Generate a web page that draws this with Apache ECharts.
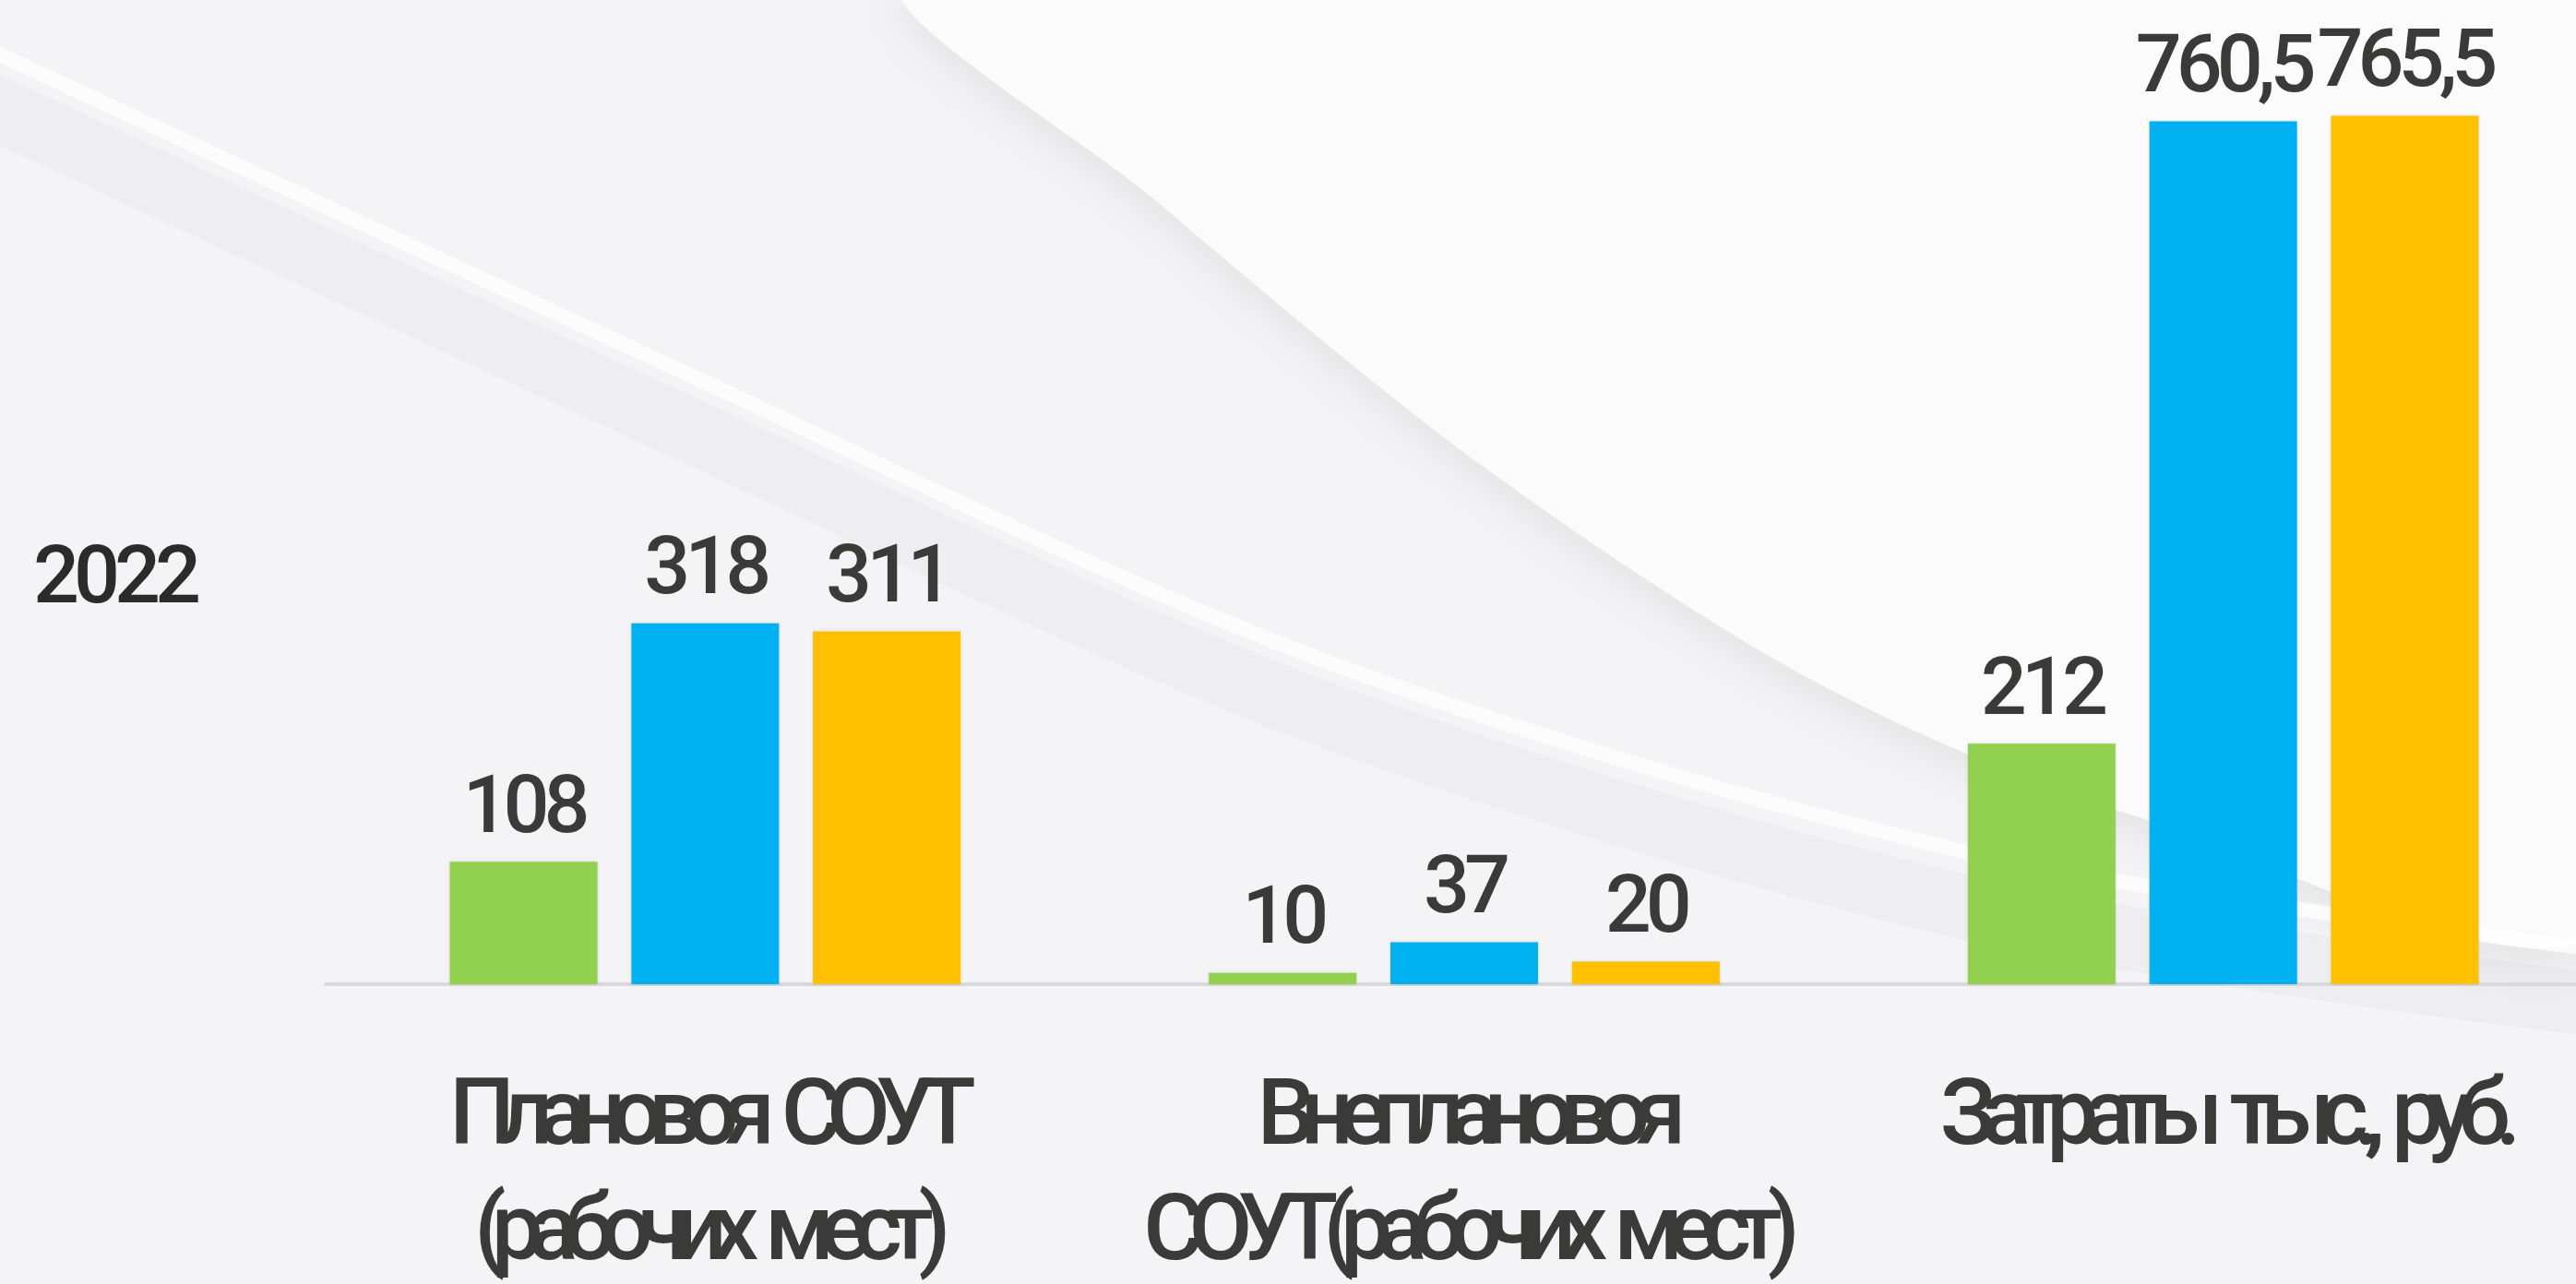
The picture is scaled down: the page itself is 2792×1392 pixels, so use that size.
<!DOCTYPE html>
<html>
<head>
<meta charset="utf-8">
<script src="https://cdn.jsdelivr.net/npm/echarts@6/dist/echarts.min.js"></script>
<style>
  html, body { margin: 0; padding: 0; background: #f5f5f7; }
  #draw { width: 2792px; height: 1392px; }
  /* узкий шрифт не установлен — поджимаем трекинг */
  #draw text[style*="88px"] { letter-spacing: -6px; }
  #draw text[style*="100px"] { letter-spacing: -16px; word-spacing: 14px; }
</style>
</head>
<body>
<div id="draw"></div>
<script>
  // данные
  var categories = ['Плановоя СОУТ\n(рабочих мест)', 'Внеплановоя\nСОУТ(рабочих мест)', 'Затраты тыс., руб.']
  var seriesNames = ['2022', '2023', '2024']
  var valuesA = [108, 10, 212]
  var valuesB = [318, 37, 760.5]
  var valuesC = [311, 20, 765.5]
  var colors = ['#92d050', '#00b0f0', '#ffc000']

  var font = 'Roboto, sans-serif'

  function makeSeries (name, data, color) {
    return {
      name: name,
      type: 'bar',
      barWidth: 160,
      barGap: '23%',
      itemStyle: {
        color: color,
        shadowColor: 'rgba(0,0,0,0.15)',
        shadowBlur: 3
      },
      label: {
        show: true,
        position: 'top',
        distance: 19,
        fontFamily: font,
        fontWeight: 500,
        fontSize: 88,
        color: '#3a3a38',
        formatter: function (p) {
          return String(p.value).replace('.', ',')
        }
      },
      data: data
    }
  }

  var myChart = echarts.init(document.getElementById('draw'), null, { renderer: 'svg' })
  myChart.setOption({
    backgroundColor: '#f4f4f6',
    animation: false,
    title: {
      text: seriesNames[0],
      left: 36,
      top: 578,
      padding: 0,
      textStyle: {
        fontFamily: font,
        fontSize: 88,
        fontWeight: 500,
        color: '#2b2b2b'
      }
    },
    graphic: [
      { // фон: светлая волна справа сверху
        type: 'polygon',
        z: -10,
        silent: true,
        shape: {
          smooth: 0.3,
          points: [[988, -20], [1250, 215], [1600, 500], [1960, 735],
            [2300, 880], [2820, 1000], [2820, -20]]
        },
        style: {
          fill: '#fbfbfc',
          shadowColor: 'rgba(0,0,0,0.08)',
          shadowBlur: 50,
          shadowOffsetY: 12
        }
      },
      { // фон: диагональная полоса слева
        type: 'polyline',
        z: -10,
        silent: true,
        shape: {
          smooth: 0.3,
          points: [[-20, 110], [712, 450], [1424, 770], [2137, 985], [2820, 1090]]
        },
        style: { fill: null, stroke: 'rgba(0,0,0,0.025)', lineWidth: 70 }
      },
      {
        type: 'polyline',
        z: -10,
        silent: true,
        shape: {
          smooth: 0.3,
          points: [[-20, 50], [712, 390], [1424, 712], [2137, 925], [2820, 1030]]
        },
        style: { fill: null, stroke: 'rgba(255,255,255,0.75)', lineWidth: 16 }
      }
    ],
    grid: {
      left: 353,
      width: 2468,
      top: 83,
      bottom: 325,
      outerBoundsMode: 'none'
    },
    xAxis: {
      type: 'category',
      data: categories,
      axisTick: { show: false },
      axisLine: {
        lineStyle: { color: '#d9d9d9', width: 4 }
      },
      axisLabel: {
        margin: 76,
        interval: 0,
        fontFamily: font,
        fontWeight: 500,
        fontSize: 100,
        lineHeight: 125,
        color: '#3a3a38'
      }
    },
    yAxis: {
      type: 'value',
      min: 0,
      max: 800,
      show: false,
      splitLine: { show: false }
    },
    series: [
      makeSeries(seriesNames[0], valuesA, colors[0]),
      makeSeries(seriesNames[1], valuesB, colors[1]),
      makeSeries(seriesNames[2], valuesC, colors[2])
    ]
  })
</script>
</body>
</html>
